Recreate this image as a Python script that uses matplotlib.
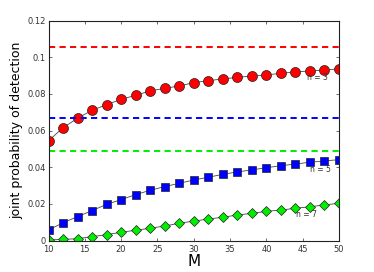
"""Joint probability of detection versus M for n = 3, 5, 7."""
import matplotlib
matplotlib.use("Agg")
import matplotlib.pyplot as plt

M = [10, 12, 14, 16, 18, 20, 22, 24, 26, 28, 30, 32, 34, 36, 38, 40, 42, 44, 46, 48, 50]
p_n3 = [0.0544, 0.0615, 0.0667, 0.0710, 0.0741, 0.0770, 0.0792, 0.0816, 0.0830, 0.0843, 0.0861,
        0.0872, 0.0881, 0.0890, 0.0897, 0.0903, 0.0912, 0.0919, 0.0925, 0.0930, 0.0936]
p_n5 = [0.0057, 0.0097, 0.0130, 0.0163, 0.0197, 0.0223, 0.0250, 0.0274, 0.0294, 0.0312, 0.0330,
        0.0345, 0.0361, 0.0374, 0.0385, 0.0397, 0.0408, 0.0417, 0.0427, 0.0434, 0.0441]
p_n7 = [0.0003, 0.0006, 0.0010, 0.0021, 0.0032, 0.0045, 0.0056, 0.0067, 0.0079, 0.0094, 0.0106,
        0.0117, 0.0127, 0.0139, 0.0148, 0.0159, 0.0166, 0.0176, 0.0184, 0.0194, 0.0203]
limits = {"n = 3": 0.1056, "n = 5": 0.0670, "n = 7": 0.0490}

x_ticks = [10, 15, 20, 25, 30, 35, 40, 45, 50]
y_ticks = [0, 0.02, 0.04, 0.06, 0.08, 0.1, 0.12]
y_tick_labels = ["0", "0.02", "0.04", "0.06", "0.08", "0.1", "0.12"]

fig = plt.figure(figsize=(3.74, 2.72), dpi=100)
ax = fig.add_axes([48.5 / 374, 1 - 240.5 / 272, 290.5 / 374, 220 / 272])

series = (
    (p_n3, "#ff0000", "o", 7.2, "n = 3"),
    (p_n5, "#0000ff", "s", 5.6, "n = 5"),
    (p_n7, "#00ee00", "D", 5.4, "n = 7"),
)
for values, color, marker, size, name in series:
    ax.axhline(limits[name], color=color, linestyle=(0, (3.2, 2.2)), linewidth=1.4)
    ax.plot(M, values, color="#444444", linewidth=0.6, marker=marker, markersize=size,
            markerfacecolor=color, markeredgecolor="#222222", markeredgewidth=0.5)

ax.text(45.6, 0.0875, "n = 3", fontsize=5.5, color="#333333")
ax.text(46.0, 0.0373, "n = 5", fontsize=5.5, color="#333333")
ax.text(44.1, 0.0130, "n = 7", fontsize=5.5, color="#333333")

ax.set_xlim(10, 50)
ax.set_ylim(0, 0.12)
ax.set_xticks(x_ticks)
ax.set_yticks(y_ticks)
ax.set_yticklabels(y_tick_labels)
ax.tick_params(direction="in", top=True, right=True, labelsize=6, length=2.5, width=0.5,
               pad=2, colors="#333333")
ax.tick_params(axis="x", pad=3)
for spine in ax.spines.values():
    spine.set_linewidth(0.8)
    spine.set_color("#222222")
ax.set_xlabel("M", fontsize=11, labelpad=0.5)
ax.set_ylabel("joint probability of detection", fontsize=9, labelpad=3)

fig.savefig("out.png", dpi=100)
plt.close(fig)
